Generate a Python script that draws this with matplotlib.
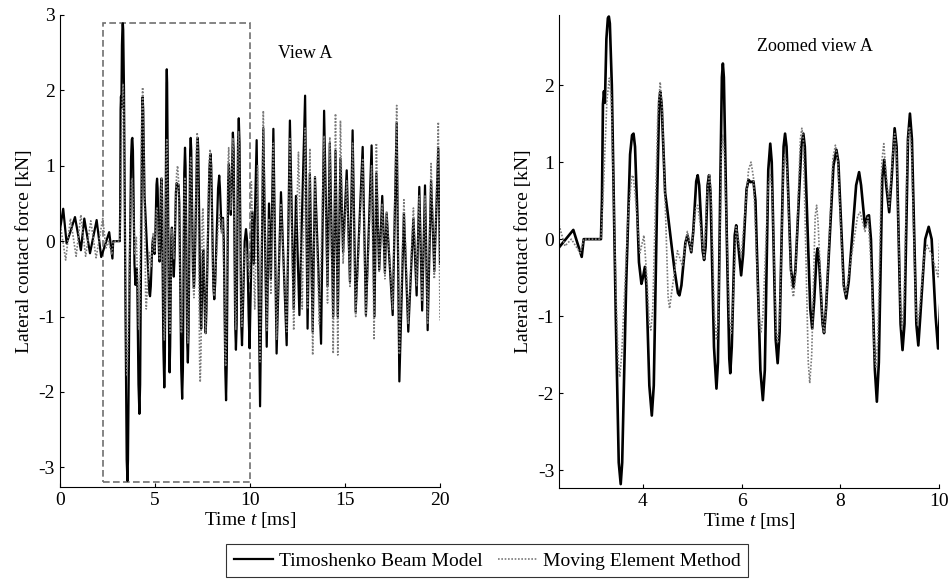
import matplotlib
matplotlib.use("Agg")
import matplotlib.pyplot as plt
from matplotlib.patches import Rectangle

plt.rcParams['font.family'] = ['Liberation Serif', 'DejaVu Serif']
plt.rcParams['mathtext.fontset'] = 'custom'
plt.rcParams['mathtext.rm'] = 'Liberation Serif'
plt.rcParams['mathtext.it'] = 'Liberation Serif:italic'
plt.rcParams['axes.unicode_minus'] = False

# ---- data (time in ms, lateral contact force in kN) ----
t_timo = [0.00, 0.17, 0.35, 0.79, 1.10, 1.28, 1.58, 1.93, 2.17, 2.59, 2.76, 2.80, 3.15,
          3.17, 3.19, 3.21, 3.23, 3.26, 3.29, 3.31, 3.33, 3.37, 3.45, 3.51, 3.55, 3.58,
          3.66, 3.74, 3.78, 3.81, 3.84, 3.92, 3.97, 4.00, 4.04, 4.07, 4.13, 4.18, 4.22,
          4.29, 4.33, 4.35, 4.38, 4.45, 4.50, 4.64, 4.71, 4.74, 4.78, 4.86, 4.90, 4.94,
          4.98, 5.02, 5.08, 5.11, 5.14, 5.21, 5.24, 5.27, 5.31, 5.34, 5.37, 5.44, 5.49,
          5.52, 5.57, 5.60, 5.62, 5.64, 5.70, 5.75, 5.77, 5.80, 5.86, 5.89, 5.92, 5.99,
          6.03, 6.10, 6.14, 6.18, 6.24, 6.28, 6.38, 6.43, 6.47, 6.54, 6.58, 6.61, 6.69,
          6.73, 6.77, 6.85, 6.88, 6.91, 7.00, 7.05, 7.09, 7.21, 7.25, 7.28, 7.39, 7.43,
          7.47, 7.52, 7.54, 7.57, 7.64, 7.67, 7.71, 7.86, 7.92, 7.96, 8.07, 8.12, 8.17,
          8.32, 8.38, 8.42, 8.50, 8.55, 8.58, 8.62, 8.70, 8.74, 8.78, 8.85, 8.89, 8.93,
          8.99, 9.04, 9.10, 9.14, 9.22, 9.26, 9.30, 9.37, 9.41, 9.45, 9.54, 9.58, 9.62,
          9.72, 9.79, 9.85, 9.93, 9.98,
          10.12, 10.20, 10.35, 10.53, 10.70,
          10.88, 11.00, 11.10, 11.23, 11.40, 11.63, 11.93, 12.10, 12.30, 12.42, 12.60,
          12.90, 13.03, 13.15, 13.30, 13.42, 13.74, 13.90, 14.08, 14.20, 14.38, 14.50,
          14.62, 14.76, 14.90, 15.09, 15.26, 15.40, 15.56, 15.93, 16.10, 16.40, 16.55,
          16.65, 16.80, 16.96, 17.10, 17.19, 17.51, 17.72, 17.86, 18.10, 18.33, 18.60,
          18.77, 18.91, 19.06, 19.21, 19.35, 19.53, 19.70, 19.91, 20.00]
f_timo = [0.15, 0.43, -0.03, 0.32, -0.12, 0.30, -0.16, 0.28, -0.21, 0.12, -0.23, 0.0, 0.0,
          0.50, 1.75, 1.92, 1.77, 2.60, 2.87, 2.89, 2.80, 2.00, -1.00, -2.90, -3.18, -2.90,
          -0.60, 1.10, 1.35, 1.37, 1.20, -0.30, -0.58, -0.50, -0.36, -0.60, -1.90, -2.29, -1.90,
          0.60, 1.80, 1.91, 1.75, 0.60, 0.35, -0.40, -0.70, -0.73, -0.60, -0.05, 0.05, -0.05,
          -0.17, 0.10, 0.75, 0.83, 0.70, -0.15, -0.27, -0.10, 0.70, 0.83, 0.60, -1.40, -1.94,
          -1.60, 0.80, 2.10, 2.28, 2.10, 0.00, -1.55, -1.74, -1.40, 0.05, 0.18, 0.00, -0.47,
          -0.20, 0.65, 0.77, 0.74, 0.75, 0.50, -1.70, -2.09, -1.70, 0.90, 1.24, 1.00, -1.30,
          -1.61, -1.20, 1.20, 1.37, 1.20, -0.40, -0.62, -0.40, 1.20, 1.37, 1.20, -0.90, -1.16,
          -0.80, -0.20, -0.12, -0.30, -1.10, -1.22, -0.90, 0.95, 1.16, 1.00, -0.60, -0.77, -0.55,
          0.70, 0.87, 0.70, 0.16, 0.30, 0.31, 0.00, -1.70, -2.11, -1.60, 0.80, 1.03, 0.70,
          0.35, 0.80, 1.44, 1.20, -1.10, -1.44, -1.10, 1.30, 1.63, 1.30, -1.10, -1.38, -1.00,
          0.00, 0.16, 0.00, -1.00, -1.42,
          0.39, -0.30, 1.34, -2.19, 1.50,
          -1.40, 0.50, -0.50, 1.49, -1.49, 0.65, -1.38, 1.60, -0.90, 0.60, -0.98,
          1.93, -1.16, 0.90, -1.20, 0.85, -1.36, 1.73, -0.60, 1.30, -1.00, 1.20,
          -1.00, 1.10, -0.15, 0.94, -0.54, 1.47, -0.94, 1.25, -0.98, 1.27, -1.00,
          0.90, -0.38, 0.60, -0.42, 0.37, -0.98, 1.57, -1.86, 0.37, -1.20, 0.30,
          -0.72, 0.72, -0.92, 0.74, -1.18, 0.80, -0.40, 1.23, -0.30]

t_mem = [0.00, 0.30, 0.55, 0.85, 1.10, 1.35, 1.62, 1.90, 2.25, 2.42, 2.55, 2.73, 2.80, 3.15,
         3.20, 3.27, 3.32, 3.36, 3.45, 3.50, 3.53, 3.57, 3.70, 3.77, 3.80, 3.84, 3.94, 4.02,
         4.08, 4.13, 4.16, 4.20, 4.30, 4.35, 4.39, 4.47, 4.51, 4.54, 4.58, 4.70, 4.80, 4.90,
         4.98, 5.07, 5.11, 5.16, 5.24, 5.30, 5.35, 5.38, 5.45, 5.49, 5.53, 5.59, 5.62, 5.65,
         5.75, 5.79, 5.82, 5.89, 5.99, 6.14, 6.19, 6.24, 6.35, 6.39, 6.43, 6.54, 6.58, 6.62,
         6.70, 6.73, 6.77, 6.85, 6.88, 6.92, 7.01, 7.05, 7.09, 7.19, 7.22, 7.25, 7.35, 7.38,
         7.42, 7.49, 7.52, 7.55, 7.64, 7.67, 7.71, 7.85, 7.90, 7.95, 8.06, 8.11, 8.16, 8.35,
         8.40, 8.50, 8.56, 8.62, 8.69, 8.72, 8.76, 8.84, 8.88, 8.92, 8.99, 9.05, 9.10, 9.14,
         9.22, 9.25, 9.29, 9.36, 9.40, 9.44, 9.53, 9.57, 9.62, 9.70, 9.76, 9.85, 9.98,
         10.07, 10.25, 10.40, 10.53, 10.70, 10.88, 11.00, 11.10, 11.23,
         11.40, 11.63, 11.93, 12.10, 12.30, 12.55, 12.75, 12.90, 13.03, 13.15, 13.30, 13.42,
         13.65, 13.90, 14.08, 14.20, 14.38, 14.50, 14.62, 14.76, 14.90, 15.09, 15.26, 15.40,
         15.56, 15.93, 16.10, 16.40, 16.53, 16.65, 16.80, 16.96, 17.10, 17.19, 17.51, 17.72,
         17.86, 18.10, 18.33, 18.60, 18.77, 18.91, 19.06, 19.21, 19.35, 19.53, 19.70, 19.91,
         20.00]
f_mem = [0.25, -0.25, 0.30, -0.20, 0.35, -0.20, 0.27, -0.22, 0.30, -0.09, 0.00, -0.18, 0.0, 0.0,
         0.66, 1.80, 2.09, 1.80, -0.60, -1.60, -1.79, -1.50, 0.30, 0.80, 0.83, 0.60, -0.18, 0.05,
         -0.50, -1.10, -1.18, -0.90, 1.60, 2.04, 1.70, 0.10, -0.75, -0.90, -0.70, -0.15, -0.35, 0.10,
         -0.15, 0.40, 0.44, 0.20, -0.25, 0.60, 0.85, 0.60, -1.00, -1.31, -1.00, 1.10, 1.36, 1.10,
         -1.00, -1.22, -0.90, 0.16, -0.24, 0.90, 1.00, 0.80, -1.00, -1.22, -1.00, 0.70, 0.85, 0.60,
         -1.20, -1.35, -1.00, 1.00, 1.11, 0.90, -0.60, -0.75, -0.50, 1.30, 1.44, 1.30, -1.60, -1.87,
         -1.50, 0.30, 0.44, 0.20, -1.10, -1.22, -0.90, 1.05, 1.22, 1.00, -0.60, -0.73, -0.50, 0.30,
         0.35, 0.10, 0.30, -0.30, -1.50, -1.66, -1.30, 1.00, 1.24, 0.90, 0.42, 1.00, 1.37, 1.10,
         -0.90, -1.17, -0.80, 1.20, 1.46, 1.20, -0.90, -1.13, -0.80, -0.20, -0.08, -0.20, -0.49,
         0.79, -0.90, 1.00, -1.60, 1.73, -1.20, 0.30, -0.69, 1.30,
         -1.30, 0.50, -1.20, 1.36, -1.18, 1.18, -0.90, 1.50, -0.90, 1.23, -1.51, 0.85,
         -1.10, 1.40, -0.82, 1.38, -1.49, 1.69, -1.51, 1.60, -0.30, 0.80, -0.60, 1.30,
         -1.00, 1.10, -1.00, 1.00, -1.31, 1.30, -0.40, 0.50, -0.50, 0.40, -0.90, 1.80,
         -1.50, 0.55, -1.10, 0.44, -0.60, 0.60, -0.80, 0.60, -1.10, 1.03, -0.50, 1.58,
         -1.05]

labels = ['Timoshenko Beam Model', 'Moving Element Method']
view_box = (2.25, -3.19, 10.0, 2.9)   # t0, f0, t1, f1 of "View A"

fig = plt.figure(figsize=(9.52, 5.83), dpi=100)
ax1 = fig.add_axes([0.0630, 0.1647, 0.3992, 0.8096])
ax2 = fig.add_axes([0.5872, 0.1630, 0.3992, 0.8113])

FS = 14
handles = []
for ax, lw_s in ((ax1, 1.6), (ax2, 1.9)):
    l1, = ax.plot(t_timo, f_timo, color='black', lw=lw_s, solid_joinstyle='round')
    l2, = ax.plot(t_mem, f_mem, color='#7a7a7a', lw=1.2, ls=(0, (1, 1)))
    handles = [l1, l2]
    for s in ('top', 'right'):
        ax.spines[s].set_visible(False)
    ax.spines['left'].set_linewidth(0.8)
    ax.spines['bottom'].set_linewidth(0.8)
    ax.tick_params(direction='in', length=3, width=0.8, labelsize=FS)
    ax.set_xlabel('Time $t$ [ms]', fontsize=FS, labelpad=1)
    ax.set_ylabel('Lateral contact force [kN]', fontsize=FS)

ax1.set_xlim(0, 20)
ax1.set_ylim(-3.26, 3.0)
ax1.set_xticks([0, 5, 10, 15, 20])
ax1.set_yticks([-3, -2, -1, 0, 1, 2, 3])
ax1.add_patch(Rectangle((view_box[0], view_box[1]), view_box[2] - view_box[0],
                        view_box[3] - view_box[1], fill=False, ec='#707070',
                        ls=(0, (4, 2)), lw=1.2))
ax1.text(11.5, 2.49, 'View A', fontsize=FS - 1, va='center', ha='left')

ax2.set_xlim(2.3, 10)
ax2.set_ylim(-3.23, 2.91)
ax2.set_xticks([4, 6, 8, 10])
ax2.set_yticks([-3, -2, -1, 0, 1, 2])
ax2.text(6.32, 2.5, 'Zoomed view A', fontsize=FS - 1, va='center', ha='left')

leg_handles = [plt.Line2D([], [], color='black', lw=1.6),
               plt.Line2D([], [], color='#7a7a7a', lw=1.2, ls=(0, (1, 1)))]
leg = fig.legend(leg_handles, labels, loc='center', bbox_to_anchor=(0.512, 0.038), ncol=2,
                 fontsize=FS, frameon=True, fancybox=False, edgecolor='black',
                 handlelength=2.0, handletextpad=0.3, columnspacing=0.8,
                 borderpad=0.4)
leg.get_frame().set_linewidth(0.8)

fig.savefig('out.png', dpi=100)
